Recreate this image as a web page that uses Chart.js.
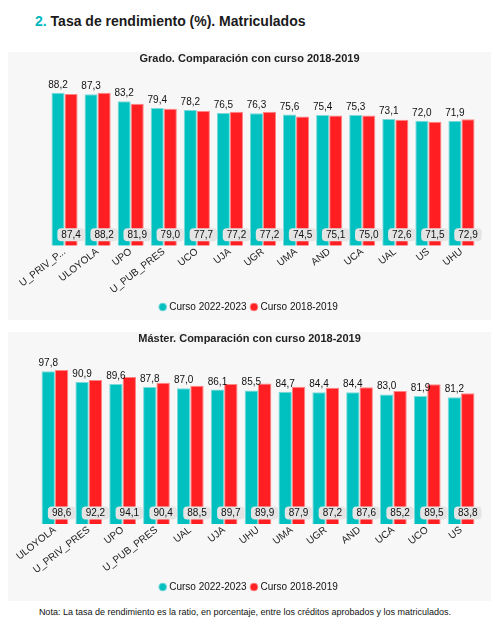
<!DOCTYPE html>
<html>
<head>
<meta charset="utf-8">
<script src="https://cdn.jsdelivr.net/npm/chart.js@4/dist/chart.umd.min.js"></script>
<style>
  body { margin: 0; background: #fff; font-family: "Liberation Sans", Arial, sans-serif; }
  .page { position: relative; width: 504px; height: 629px; }
  .title { position: absolute; left: 35px; top: 13px; font-size: 14px; font-weight: bold; color: #1a1a1a; }
  .title span { color: #00b8c0; }
  .panel { position: absolute; left: 8px; width: 483px; background: #f7f7f7; }
  .wrap { position: absolute; left: 0; top: 0; width: 483px; }
  .note { position: absolute; left: 0; width: 490px; top: 607px; text-align: center; font-size: 9px; color: #111; }
</style>
</head>
<body>
<div class="page">
  <div class="title"><span>2.</span> Tasa de rendimiento (%). Matriculados</div>
  <div class="panel" style="top:52px;height:268px"><div class="wrap" style="height:270px"><canvas id="grado"></canvas></div></div>
  <div class="panel" style="top:332px;height:269px"><div class="wrap" style="height:270px"><canvas id="master"></canvas></div></div>
  <div class="note">Nota: La tasa de rendimiento es la ratio, en porcentaje, entre los créditos aprobados y los matriculados.</div>
</div>
<script>
// Grado
const gradoUnis = ['U_PRIV_PRES', 'ULOYOLA', 'UPO', 'U_PUB_PRES', 'UCO', 'UJA', 'UGR', 'UMA', 'AND', 'UCA', 'UAL', 'US', 'UHU'];
const grado2223 = [88.2, 87.3, 83.2, 79.4, 78.2, 76.5, 76.3, 75.6, 75.4, 75.3, 73.1, 72.0, 71.9];
const grado1819 = [87.4, 88.2, 81.9, 79.0, 77.7, 77.2, 77.2, 74.5, 75.1, 75.0, 72.6, 71.5, 72.9];

// Máster
const masterUnis = ['ULOYOLA', 'U_PRIV_PRES', 'UPO', 'U_PUB_PRES', 'UAL', 'UJA', 'UHU', 'UMA', 'UGR', 'AND', 'UCA', 'UCO', 'US'];
const master2223 = [97.8, 90.9, 89.6, 87.8, 87.0, 86.1, 85.5, 84.7, 84.4, 84.4, 83.0, 81.9, 81.2];
const master1819 = [98.6, 92.2, 94.1, 90.4, 88.5, 89.7, 89.9, 87.9, 87.2, 87.6, 85.2, 89.5, 83.8];

const seriesNames = ['Curso 2022-2023', 'Curso 2018-2019'];
const TEAL = '#00c0c0';
const RED = '#ff1f23';

function fmt(v) {
  return v.toFixed(1).replace('.', ',');
}

// draws value labels: plain above the 2022-2023 bars, boxed near the base of the 2018-2019 bars
const valueLabels = {
  id: 'valueLabels',
  afterDatasetsDraw(chart) {
    const ctx = chart.ctx;
    const base = chart.scales.y.getPixelForValue(0);
    ctx.save();
    ctx.font = '10px "Liberation Sans", Arial, sans-serif';
    ctx.textAlign = 'center';
    chart.getDatasetMeta(0).data.forEach((bar, i) => {
      ctx.fillStyle = '#111';
      ctx.textBaseline = 'alphabetic';
      ctx.fillText(fmt(chart.data.datasets[0].data[i]), bar.x, bar.y - 5);
    });
    chart.getDatasetMeta(1).data.forEach((bar, i) => {
      const txt = fmt(chart.data.datasets[1].data[i]);
      const w = ctx.measureText(txt).width + 8;
      const h = 13;
      const cy = base - 11;
      ctx.fillStyle = '#e4e4e4';
      ctx.beginPath();
      ctx.roundRect(bar.x - w / 2, cy - h / 2, w, h, 4);
      ctx.fill();
      ctx.fillStyle = '#111';
      ctx.textBaseline = 'middle';
      ctx.fillText(txt, bar.x, cy + 0.5);
    });
    ctx.restore();
  }
};

function makeChart(id, title, labels, a, b, yMax, padLeft, tickFn) {
  return new Chart(document.getElementById(id), {
    type: 'bar',
    data: {
      labels: labels,
      datasets: [
        { label: seriesNames[0], data: a, backgroundColor: TEAL, borderColor: '#7ad9d9', borderWidth: 1 },
        { label: seriesNames[1], data: b, backgroundColor: RED, borderColor: '#ff8585', borderWidth: 1 }
      ]
    },
    options: {
      responsive: true,
      maintainAspectRatio: false,
      animation: false,
      layout: { padding: 0 },
      datasets: { bar: { barPercentage: 1, categoryPercentage: 0.79 } },
      scales: {
        y: { display: false, min: 0, max: yMax },
        x: {
          grid: { display: false, drawTicks: false },
          border: { display: false },
          // keep title and legend centred on the panel, only the plot area is inset
          afterFit(scale) {
            scale.paddingLeft = padLeft;
            scale.paddingRight = 13;
          },
          ticks: {
            color: '#222',
            padding: 0,
            font: { size: 10, family: '"Liberation Sans", Arial, sans-serif' },
            minRotation: 38,
            maxRotation: 38,
            autoSkip: false,
            callback: tickFn
          }
        }
      },
      plugins: {
        title: {
          display: true,
          text: title,
          color: '#222',
          font: { size: 11, weight: 'bold', family: '"Liberation Sans", Arial, sans-serif' },
          padding: { top: 0, bottom: 7 }
        },
        legend: {
          position: 'bottom',
          labels: {
            usePointStyle: true,
            pointStyle: 'circle',
            boxWidth: 3,
            boxHeight: 5.5,
            padding: 6,
            color: '#111',
            font: { size: 10, family: '"Liberation Sans", Arial, sans-serif' }
          }
        },
        tooltip: { enabled: false }
      }
    },
    plugins: [valueLabels]
  });
}

makeChart('grado', 'Grado. Comparación con curso 2018-2019', gradoUnis, grado2223, grado1819, 100, 40,
  function (value, index) {
    const l = this.getLabelForValue(value);
    return index === 0 ? l.slice(0, 8) + '...' : l;
  });
makeChart('master', 'Máster. Comparación con curso 2018-2019', masterUnis, master2223, master1819, 110, 30,
  function (value) {
    return this.getLabelForValue(value);
  });
</script>
</body>
</html>
